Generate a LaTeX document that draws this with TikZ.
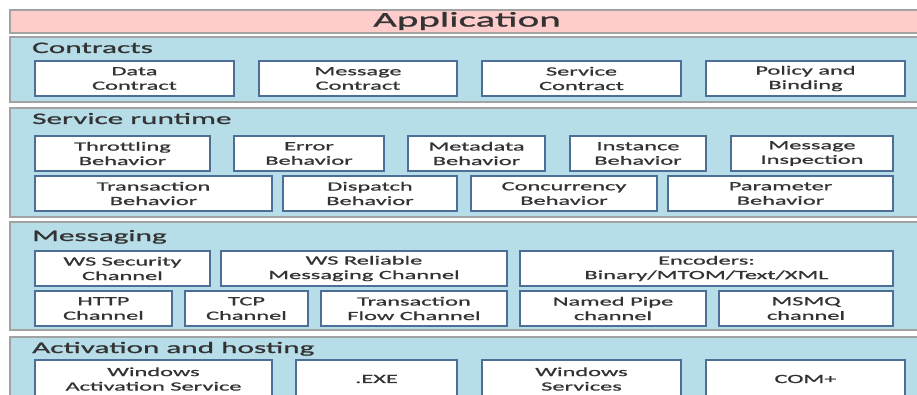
\documentclass[tikz,border=0pt]{standalone}
\usepackage{fontspec}
\newfontfamily\widefont[FakeStretch=1.95,FakeBold=1]{Carlito}
\definecolor{panelfill}{HTML}{B7DDE8}
\definecolor{paneledge}{HTML}{A2A2A2}
\definecolor{appfill}{HTML}{FFCCCC}
\definecolor{boxedge}{HTML}{4D6E96}
\definecolor{inktext}{HTML}{333333}
\tikzset{
  panel/.style={fill=panelfill, draw=paneledge, line width=1.4pt},
  appbar/.style={fill=appfill, draw=paneledge, line width=1.4pt},
  blk/.style={draw=boxedge, fill=white, line width=1.3pt, inner sep=0pt,
    align=center, text=inktext, font=\widefont\fontsize{12.5}{14.5}\selectfont},
  paneltitle/.style={anchor=base west, inner sep=0pt, text=inktext,
    font=\widefont\fontsize{16}{18}\selectfont},
}
% block from (x1,y1) to (x2,y2), y measured downward
\newcommand\blkat[6]{%
  \node[blk, minimum width={(#4-#2)*1pt}, minimum height={(#5-#3)*1pt}]
    (#1) at ({(#2+#4)/2},{(#3+#5)/2}) {#6};}
\begin{document}
\begin{tikzpicture}[x=1pt, y=-1pt]
\useasboundingbox (0,0) rectangle (917,395);
\clip (0,0) rectangle (917,395);

% layer bands
\draw[appbar] (10,10) rectangle (935,33);
\node[text=inktext, font=\widefont\fontsize{21}{24}\selectfont, inner sep=0pt]
  (app) at (467,21) {Application};

\draw[panel] (10,37) rectangle (935,102);
\draw[panel] (10,108) rectangle (935,217);
\draw[panel] (10,222) rectangle (935,330);
\draw[panel] (10,337) rectangle (935,420);

\node[paneltitle] (tcontracts) at (32,53) {Contracts};
\node[paneltitle] (truntime) at (32,124) {Service runtime};
\node[paneltitle] (tmessaging) at (32,241) {Messaging};
\node[paneltitle] (thosting) at (32,353) {Activation and hosting};

% contracts
\blkat{datac}{35}{61}{234}{96}{Data\\Contract}
\blkat{msgc}{259}{61}{457}{96}{Message\\Contract}
\blkat{svcc}{482}{61}{681}{96}{Service\\Contract}
\blkat{policy}{706}{61}{905}{96}{Policy and\\Binding}

% service runtime
\blkat{throttle}{35}{136}{210}{171}{Throttling\\Behavior}
\blkat{error}{234}{136}{384}{171}{Error\\Behavior}
\blkat{meta}{408}{136}{545}{171}{Metadata\\Behavior}
\blkat{inst}{570}{136}{706}{171}{Instance\\Behavior}
\blkat{inspect}{731}{136}{893}{171}{Message\\Inspection}
\blkat{trans}{35}{176}{272}{211}{Transaction\\Behavior}
\blkat{disp}{283}{176}{457}{211}{Dispatch\\Behavior}
\blkat{conc}{471}{176}{657}{211}{Concurrency\\Behavior}
\blkat{param}{668}{176}{893}{211}{Parameter\\Behavior}

% messaging
\blkat{wssec}{35}{251}{210}{286}{WS Security\\Channel}
\blkat{wsrel}{221}{251}{507}{286}{WS Reliable\\Messaging Channel}
\blkat{enc}{520}{251}{893}{286}{Encoders:\\Binary/MTOM/Text/XML}
\blkat{http}{35}{291}{172}{326}{HTTP\\Channel}
\blkat{tcp}{185}{291}{308}{326}{TCP\\Channel}
\blkat{tflow}{321}{291}{507}{326}{Transaction\\Flow Channel}
\blkat{pipe}{520}{291}{706}{326}{Named Pipe\\channel}
\blkat{msmq}{719}{291}{893}{326}{MSMQ\\channel}

% activation and hosting
\blkat{was}{35}{360}{272}{398}{Windows\\Activation Service}
\blkat{exe}{296}{360}{457}{398}{.EXE}
\blkat{winsvc}{482}{360}{681}{398}{Windows\\Services}
\blkat{com}{706}{360}{905}{398}{COM+}
\end{tikzpicture}
\end{document}
